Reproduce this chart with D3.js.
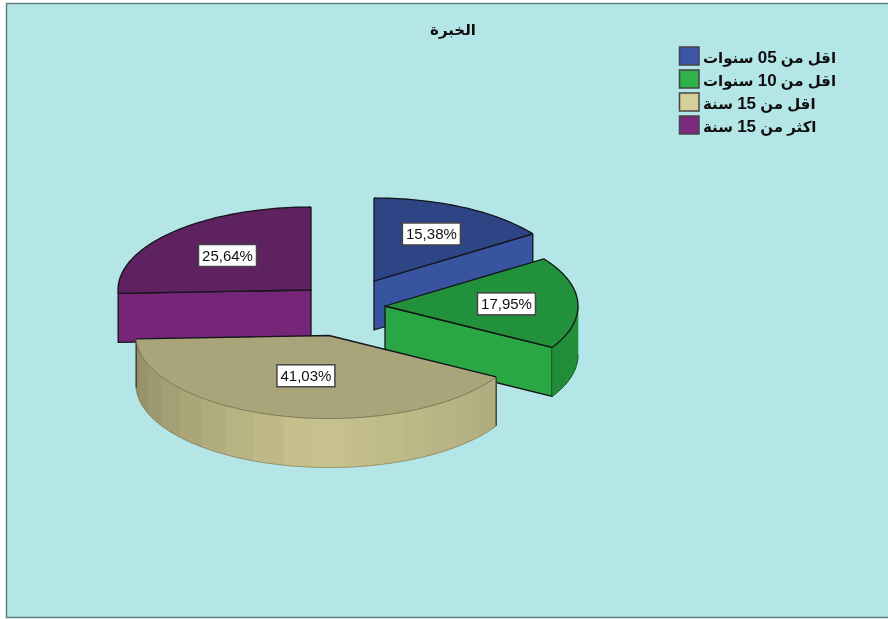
<!DOCTYPE html>
<html>
<head>
<meta charset="utf-8">
<script src="https://cdn.jsdelivr.net/npm/d3@7"></script>
<style>
	html, body { margin: 0; padding: 0; background: #fff; }
	svg { display: block; }
</style>
</head>
<body>
<svg id="chart"></svg>
<script>
const chartTitle = "الخبرة";
const categories = ["اقل من 05 سنوات", "اقل من 10 سنوات", "اقل من 15 سنة", "اكثر من 15 سنة"];
const percentValues = [15.38, 17.95, 41.03, 25.64];
const percentLabels = ["15,38%", "17,95%", "41,03%", "25,64%"];

// colours per slice: legend swatch, top face, cut face
const swatchColors = ["#3C55A5", "#2DB24A", "#D6CF9A", "#7C2A80"];
const topColors = ["#2F4585", "#23913A", "#A9A47A", "#5F2160"];
const faceColors = ["#3852A0", "#2AA745", "#C8C38E", "#762878"];
// outer wall shade at the right end, the front and the left end of the visible wall
const wallRight = ["#2F4585", "#23913A", "#AFAB80", "#5F2160"];
const wallFront = ["#2F4585", "#1E7F33", "#C8C38E", "#5F2160"];
const wallLeft = ["#2F4585", "#1E7F33", "#8E8A64", "#5F2160"];

// how far each slice is pulled out of the pie, and where its label sits along the bisector
const pullX = [32, 43, -13, -31];
const pullY = [-26, -1, 28.5, -17];
const labelRadius = [0.64, 0.63, 0.5, 0.6];

const width = 888, height = 619;
const pieCenter = { x: 342, y: 307 };
const radiusX = 193, radiusY = 83, depth = 49;
const edgeColor = "#14141a";
const softEdge = "#77734f";
const tanIndex = 2;

let svg = d3.select("#chart").attr("width", width).attr("height", height);

// the source picture is a little soft
svg.append("filter").attr("id", "soft")
	.attr("x", 0).attr("y", 0).attr("width", 1).attr("height", 1)
	.append("feGaussianBlur").attr("stdDeviation", 0.4);

let root = svg.append("g").attr("filter", "url(#soft)");

// background panel
root.append("rect").attr("width", width).attr("height", height).attr("fill", "#fff");
root.append("rect")
	.attr("x", 6.5).attr("y", 3.5)
	.attr("width", width).attr("height", 614)
	.attr("fill", "#B5E6E7")
	.attr("stroke", "#5F7F82")
	.attr("stroke-width", 1.5);

root.append("text")
	.attr("x", 453).attr("y", 35)
	.attr("text-anchor", "middle")
	.attr("font-family", "DejaVu Sans")
	.attr("font-weight", "bold")
	.attr("font-size", 15)
	.attr("fill", "#111")
	.text(chartTitle);

let arcs = d3.pie().sort(null)(percentValues);

// unit circle to screen, squashed for the tilted view
let scaleX = d3.scaleLinear().domain([-1, 1]).range([-radiusX, radiusX]);
let scaleY = d3.scaleLinear().domain([-1, 1]).range([-radiusY, radiusY]);
let px = a => scaleX(Math.sin(a));
let py = a => scaleY(-Math.cos(a));
let line = d3.line();

function arcPoints(a0, a1, dy)
{
	let n = Math.max(2, Math.ceil((a1 - a0) * 40));
	return d3.range(n + 1).map(i => {
		let a = a0 + (a1 - a0) * i / n;
		return [px(a), py(a) + dy];
	});
}

function drawFace(g, i, a)
{
	g.append("path")
		.attr("d", line([[0, 0], [px(a), py(a)], [px(a), py(a) + depth], [0, depth]]) + "Z")
		.attr("fill", faceColors[i])
		.attr("stroke", edgeColor)
		.attr("stroke-width", 1.3)
		.attr("stroke-linejoin", "round");
}

function drawSlice(i)
{
	let d = arcs[i];
	let g = root.append("g")
		.attr("transform", "translate(" + (pieCenter.x + pullX[i]) + "," + (pieCenter.y + pullY[i]) + ")");

	// cut faces, only the ones turned towards the viewer
	if (Math.sin(d.startAngle) < -0.01) drawFace(g, i, d.startAngle);
	if (Math.sin(d.endAngle) > 0.01) drawFace(g, i, d.endAngle);

	// outer wall in facets, only the part turned towards the viewer
	let wallStart = Math.max(d.startAngle, Math.PI / 2);
	let wallEnd = Math.min(d.endAngle, Math.PI * 1.5);
	if (wallEnd > wallStart + 0.1)
	{
		let shade = d3.scaleLinear()
			.domain([wallStart, Math.PI * 1.02, wallEnd])
			.range([wallRight[i], wallFront[i], wallLeft[i]]);
		let facets = Math.max(3, Math.round((wallEnd - wallStart) / 0.16));
		d3.range(facets).forEach(k => {
			let a0 = wallStart + (wallEnd - wallStart) * k / facets;
			let a1 = wallStart + (wallEnd - wallStart) * (k + 1) / facets;
			g.append("path")
				.attr("d", line(arcPoints(a0, a1, 0).concat(arcPoints(a0, a1, depth).reverse())) + "Z")
				.attr("fill", shade((a0 + a1) / 2))
				.attr("stroke", shade((a0 + a1) / 2))
				.attr("stroke-width", 0.6);
		});
		// lower rim of the wall
		g.append("path")
			.attr("d", line(arcPoints(wallStart, wallEnd, depth)))
			.attr("fill", "none")
			.attr("stroke", i === tanIndex ? softEdge : "#145a24")
			.attr("stroke-width", i === tanIndex ? 0.6 : 0.9);
		// the tan slice has no cut face in view, so its wall ends need their own edges
		if (i === tanIndex)
		{
			[wallStart, wallEnd].forEach(a => {
				g.append("path")
					.attr("d", line([[px(a), py(a)], [px(a), py(a) + depth]]))
					.attr("fill", "none")
					.attr("stroke", "#2a2a20")
					.attr("stroke-width", 1.2);
			});
		}
	}

	// top face, straight edges dark, round edge softer on the tan slice
	let rim = arcPoints(d.startAngle, d.endAngle, 0);
	g.append("path")
		.attr("d", line([[0, 0]].concat(rim)) + "Z")
		.attr("fill", topColors[i]);
	g.append("path")
		.attr("d", line(rim))
		.attr("fill", "none")
		.attr("stroke", i === tanIndex ? softEdge : edgeColor)
		.attr("stroke-width", i === tanIndex ? 0.9 : 1.3);
	g.append("path")
		.attr("d", line([rim[0], [0, 0], rim[rim.length - 1]]))
		.attr("fill", "none")
		.attr("stroke", edgeColor)
		.attr("stroke-width", 1.3)
		.attr("stroke-linejoin", "round");
}

// back slices first so the front ones cover them
[0, 3, 1, 2].forEach(drawSlice);

// value labels
arcs.forEach((d, i) => {
	let mid = (d.startAngle + d.endAngle) / 2;
	let lx = pieCenter.x + pullX[i] + px(mid) * labelRadius[i];
	let ly = pieCenter.y + pullY[i] + py(mid) * labelRadius[i];
	let boxW = 58, boxH = 22;
	root.append("rect")
		.attr("x", lx - boxW / 2).attr("y", ly - boxH / 2)
		.attr("width", boxW).attr("height", boxH)
		.attr("fill", "#fff")
		.attr("stroke", "#444")
		.attr("stroke-width", 1.5);
	root.append("text")
		.attr("x", lx).attr("y", ly + 5.5)
		.attr("text-anchor", "middle")
		.attr("font-family", "Liberation Sans")
		.attr("font-size", 15)
		.attr("fill", "#111")
		.text(percentLabels[i]);
});

// legend
let legendY = d3.scalePoint().domain(d3.range(categories.length)).range([47, 116]);
let legend = root.append("g");
categories.forEach((c, i) => {
	legend.append("rect")
		.attr("x", 679.5).attr("y", legendY(i))
		.attr("width", 19.5).attr("height", 18)
		.attr("fill", swatchColors[i])
		.attr("stroke", "#444")
		.attr("stroke-width", 1.5);
	let label = legend.append("text")
		.attr("x", 703).attr("y", legendY(i) + 15.5)
		.attr("direction", "rtl")
		.attr("text-anchor", "end")
		.attr("font-family", "Liberation Sans, DejaVu Sans")
		.attr("font-weight", "bold")
		.attr("font-size", 15)
		.attr("fill", "#111");
	// digits run larger than the arabic in the legend
	c.split(/(\d+)/).forEach(part => {
		label.append("tspan")
			.attr("font-size", /\d/.test(part) ? 17 : 15)
			.text(part);
	});
});
</script>
</body>
</html>
